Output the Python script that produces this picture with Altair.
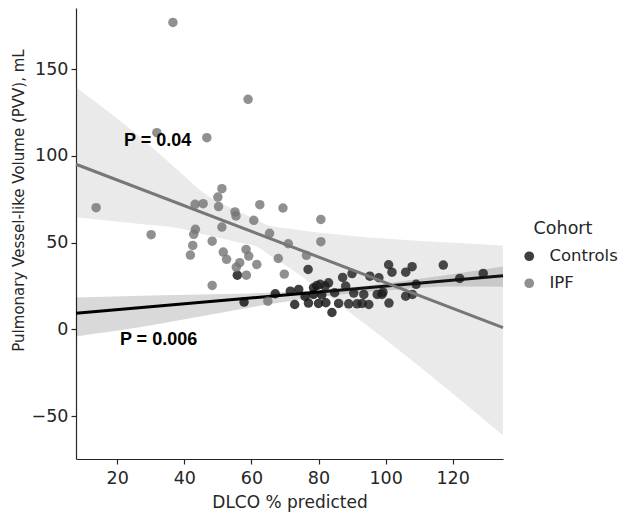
import altair as alt
import pandas as pd

# cohorts and colours
cohorts = ["Controls", "IPF"]
cohort_colors = ["#0f0f0f", "#747474"]

# Controls: DLCO % predicted vs PVV (mL)
ctrl_dlco = [55.8, 57.8, 67.1, 71.6, 72.9, 74.1, 76.9, 77.0, 78.5, 78.5, 79.5,
             80.0, 80.5, 82.0, 83.0, 82.2, 84.0, 84.8, 86.0, 87.2, 88.1, 89.0,
             90.0, 90.5, 91.5, 93.5, 93.0, 95.0, 95.3, 98.0, 97.5, 98.9, 99.2,
             101.0, 100.9, 101.9, 106.0, 107.9, 106.0, 108.0, 109.1, 117.2,
             122.1, 129.1, 76.0, 81.0]
ctrl_pvv = [31.3, 15.8, 20.6, 22.1, 14.4, 23.1, 34.6, 15.2, 24.0, 20.2, 25.3,
            15.0, 26.0, 25.0, 26.9, 15.4, 9.8, 21.2, 15.0, 30.0, 25.0, 14.8,
            32.2, 21.0, 14.8, 20.2, 15.0, 14.4, 30.7, 29.8, 20.2, 20.2, 21.5,
            15.2, 37.3, 33.0, 33.0, 36.2, 19.2, 20.2, 26.0, 37.1,
            29.4, 32.3, 19.0, 20.0]

# IPF
ipf_dlco = [36.6, 59.0, 31.8, 46.7, 13.7, 51.2, 50.0, 43.2, 45.6, 50.2, 55.1,
            55.4, 60.7, 51.2, 30.1, 43.3, 42.8, 48.3, 42.5, 41.8, 51.6, 52.6,
            58.4, 59.2, 56.5, 55.5, 58.5, 48.3, 62.5, 69.4, 80.7, 65.4, 71.0,
            80.7, 61.6, 68.0, 76.4, 69.8, 64.9]
ipf_pvv = [176.9, 132.6, 113.4, 110.5, 70.2, 81.1, 76.3, 72.1, 72.5, 70.8, 67.7,
           65.4, 62.9, 59.0, 54.6, 57.7, 54.8, 50.9, 48.4, 42.9, 44.6, 40.4,
           46.1, 42.3, 38.5, 35.9, 31.3, 25.4, 71.9, 70.0, 63.4, 55.4, 49.4,
           50.6, 37.5, 40.9, 42.7, 31.9, 16.3]

# 95% CI bands
ctrl_band_dlco = [7.7, 29.8, 44.7, 59.6, 74.6, 89.5, 104.4, 119.3, 135.0]
ctrl_band_lo = [-4.0, 2.3, 7.5, 12.7, 17.3, 20.8, 23.1, 24.7, 24.6]
ctrl_band_hi = [18.5, 19.6, 20.2, 20.8, 21.9, 24.2, 27.7, 31.7, 36.3]

ipf_band_dlco_hi = [7.7, 27.6, 45.7, 56.7, 65.6, 80.5, 95.5, 113.4, 135.0]
ipf_band_hi = [139.6, 109.6, 78.8, 67.5, 59.6, 55.7, 52.9, 50.7, 48.4]
ipf_band_dlco_lo = [7.7, 37.5, 61.4, 71.6, 83.5, 98.4, 113.4, 135.0]
ipf_band_lo = [64.6, 58.6, 47.9, 35.2, 18.5, -3.5, -26.5, -61.1]

# p-value annotations
p_labels = ["P = 0.04", "P = 0.006"]
p_dlco = [22.0, 20.8]
p_pvv = [108.6, -5.9]

x_ticks = [20, 40, 60, 80, 100, 120]
y_ticks = [-50, 0, 50, 100, 150]
x_range = [7.7, 135.0]
y_range = [-74.6, 185.2]

FONT = "DejaVu Sans"
INK = "#262626"


def x_enc(field):
    return alt.X(field, type="quantitative",
                 scale=alt.Scale(domain=x_range, nice=False, zero=False),
                 axis=alt.Axis(values=x_ticks, title="DLCO % predicted",
                               titleFontSize=17, titlePadding=8,
                               labelPadding=5))


def y_enc(field):
    return alt.Y(field, type="quantitative",
                 scale=alt.Scale(domain=y_range, nice=False, zero=False),
                 axis=alt.Axis(values=y_ticks,
                               title="Pulmonary Vessel-like Volume (PVV), mL",
                               titleFontSize=15, titlePadding=5,
                               titleY=192, labelPadding=3))


def _interp(xv, xs, ys):
    for i in range(len(xs) - 1):
        if xs[i] <= xv <= xs[i + 1]:
            t = (xv - xs[i]) / (xs[i + 1] - xs[i])
            return ys[i] + t * (ys[i + 1] - ys[i])
    return ys[-1]


def band_frame(xs_lo, lo, xs_hi, hi):
    # put both band edges on the union of their read x positions
    rows = []
    for xv in sorted(set(xs_lo) | set(xs_hi)):
        rows.append({"dlco": xv,
                     "lo": _interp(xv, xs_lo, lo),
                     "hi": _interp(xv, xs_hi, hi)})
    return pd.DataFrame(rows)


ctrl_df = pd.DataFrame({"dlco": ctrl_dlco, "pvv": ctrl_pvv, "cohort": "Controls"})
ipf_df = pd.DataFrame({"dlco": ipf_dlco, "pvv": ipf_pvv, "cohort": "IPF"})
ctrl_band = pd.DataFrame({"dlco": ctrl_band_dlco, "lo": ctrl_band_lo, "hi": ctrl_band_hi})
ipf_band = band_frame(ipf_band_dlco_lo, ipf_band_lo, ipf_band_dlco_hi, ipf_band_hi)
annot_df = pd.DataFrame({"dlco": p_dlco, "pvv": p_pvv, "label": p_labels})

color = alt.Color("cohort:N", scale=alt.Scale(domain=cohorts, range=cohort_colors),
                  legend=alt.Legend(title=None, orient="none",
                                    legendX=445, legendY=240))


def points(df):
    return alt.Chart(df).mark_circle(size=90, opacity=0.8).encode(
        x=x_enc("dlco"), y=y_enc("pvv"), color=color)


def band(df, col, op):
    return alt.Chart(df).mark_area(color=col, opacity=op, interpolate="monotone").encode(
        x=x_enc("dlco"), y=y_enc("lo"), y2="hi")


def fit(df, col):
    return alt.Chart(df).transform_regression(
        "dlco", "pvv", extent=x_range
    ).mark_line(color=col, strokeWidth=3).encode(x=x_enc("dlco"), y=y_enc("pvv"))


annot = alt.Chart(annot_df).mark_text(
    font="Liberation Sans", fontWeight="bold", fontSize=18,
    align="left", baseline="middle", color="#000000"
).encode(x=x_enc("dlco"), y=y_enc("pvv"), text="label")

# legend title, centred over the legend entries as matplotlib does
legend_title = alt.Chart(pd.DataFrame({"t": ["Cohort"]})).mark_text(
    font=FONT, fontSize=17.5, color=INK, align="center", baseline="middle"
).encode(x=alt.value(487), y=alt.value(221), text="t")

chart = alt.layer(
    points(ctrl_df), band(ctrl_band, "#000000", 0.15), fit(ctrl_df, "#000000"),
    points(ipf_df), band(ipf_band, "#747474", 0.15), fit(ipf_df, "#777777"),
    annot, legend_title,
).properties(
    width=427, height=451,
    autosize=alt.AutoSizeParams(type="none"),
    padding={"left": 68, "top": 0, "right": 118, "bottom": 53},
).configure_view(stroke=None).configure_axis(
    grid=False, domainColor=INK, tickColor=INK, domainWidth=1.2, tickWidth=1.2,
    tickSize=5, labelFont=FONT, titleFont=FONT, labelFontSize=17.5,
    labelColor=INK, titleColor=INK, titleFontWeight="normal",
).configure_legend(
    labelFont=FONT, labelFontSize=16.5, labelColor=INK,
    symbolType="circle", symbolSize=95, symbolOpacity=0.8, symbolStrokeWidth=0,
    labelOffset=12, rowPadding=10, padding=0,
)

chart.save("out.html", embed_options={"renderer": "svg", "actions": False})
